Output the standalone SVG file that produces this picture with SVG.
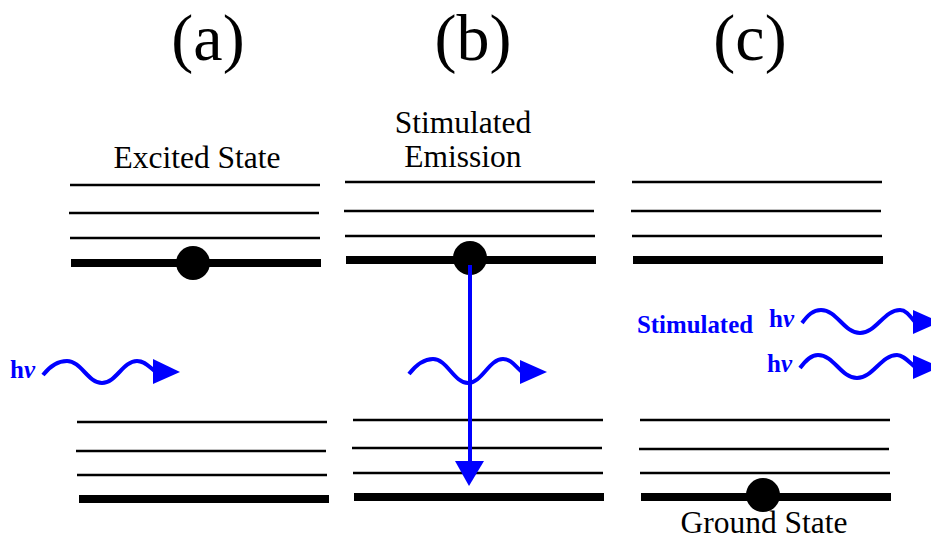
<svg xmlns="http://www.w3.org/2000/svg" width="931" height="541" viewBox="0 0 931 541">
<style>
text{font-family:'Liberation Serif','Times New Roman',serif}
.title{font-size:66px;fill:#000;text-anchor:middle}
.lbl{font-size:31.5px;fill:#000;text-anchor:middle}
.hv{font-size:25px;font-weight:bold;fill:#0000ff}
.thin{stroke:#000;stroke-width:2.5;fill:none}
.thick{stroke:#000;stroke-width:8;fill:none}
.wave{stroke:#0000ff;stroke-width:4;fill:none}
.ah{fill:#0000ff}
</style>
<rect width="931" height="541" fill="#fff"/>
<g id="panel-a">
<text class="title" x="208" y="60">(a)</text>
<text class="lbl" x="197" y="168">Excited State</text>
<line class="thin" x1="70" y1="185" x2="320" y2="185"/>
<line class="thin" x1="69" y1="213" x2="319" y2="213"/>
<line class="thin" x1="70" y1="238" x2="320" y2="238"/>
<line class="thick" x1="71" y1="263" x2="321" y2="263"/>
<circle cx="193" cy="263" r="17" fill="#000"/>
<line class="thin" x1="77" y1="422" x2="327" y2="422"/>
<line class="thin" x1="76" y1="451" x2="326" y2="451"/>
<line class="thin" x1="77" y1="475" x2="327" y2="475"/>
<line class="thick" x1="79" y1="499" x2="329" y2="499"/>
<text class="hv" x="10" y="378">h<tspan font-style="italic">ν</tspan></text>
</g>
<g id="panel-b">
<text class="title" x="473" y="60">(b)</text>
<text class="lbl" x="463" y="133">Stimulated</text>
<text class="lbl" x="463" y="167">Emission</text>
<line class="thin" x1="345" y1="182" x2="595" y2="182"/>
<line class="thin" x1="344" y1="211" x2="594" y2="211"/>
<line class="thin" x1="345" y1="236" x2="595" y2="236"/>
<line class="thick" x1="346" y1="260" x2="596" y2="260"/>
<circle cx="470" cy="258" r="17" fill="#000"/>
<line class="thin" x1="353" y1="420" x2="603" y2="420"/>
<line class="thin" x1="352" y1="448" x2="602" y2="448"/>
<line class="thin" x1="353" y1="473" x2="603" y2="473"/>
<line class="thick" x1="354" y1="497" x2="604" y2="497"/>
</g>
<g id="panel-c">
<text class="title" x="750" y="60">(c)</text>
<line class="thin" x1="632" y1="182" x2="882" y2="182"/>
<line class="thin" x1="631" y1="211" x2="881" y2="211"/>
<line class="thin" x1="632" y1="236" x2="882" y2="236"/>
<line class="thick" x1="633" y1="260" x2="883" y2="260"/>
<line class="thin" x1="640" y1="420" x2="890" y2="420"/>
<line class="thin" x1="639" y1="449" x2="889" y2="449"/>
<line class="thin" x1="640" y1="473" x2="890" y2="473"/>
<line class="thick" x1="641" y1="497" x2="891" y2="497"/>
<circle cx="763" cy="495" r="17" fill="#000"/>
<text class="lbl" x="764" y="533">Ground State</text>
<text class="hv" x="637" y="333" font-size="29" textLength="116" lengthAdjust="spacingAndGlyphs">Stimulated</text>
<text class="hv" x="769" y="327">h<tspan font-style="italic">ν</tspan></text>
<text class="hv" x="767" y="372">h<tspan font-style="italic">ν</tspan></text>
</g>
<g id="connectors">
<path class="wave" d="M43,375 C50,366 58,361 67,361 C81,361 88,383 102,383 C116,383 123,361 137,361 C145,361 149,367 156,372"/>
<polygon class="ah" points="153,359 180,372 153,384"/>
<line x1="470" y1="265" x2="470" y2="465" stroke="#0000ff" stroke-width="4"/>
<polygon class="ah" points="455,461 484,461 469,486"/>
<path class="wave" d="M409,374 C416,365 424,359 433,359 C447,359 454,383 468,383 C482,383 489,359 503,359 C511,359 515,366 522,372"/>
<polygon class="ah" points="520,360 547,372 520,384"/>
<path class="wave" d="M802,323 C808,315 813,310 821,310 C837,310 844,333 860,333 C876,333 884,310 900,310 C906,310 910,316 915,322"/>
<polygon class="ah" points="913,310 940,322 913,334"/>
<path class="wave" d="M800,368 C806,360 811,355 818,355 C834,355 841,378 857,378 C873,378 881,355 897,355 C903,355 908,361 915,367"/>
<polygon class="ah" points="913,355 940,367 913,379"/>
</g>
</svg>
